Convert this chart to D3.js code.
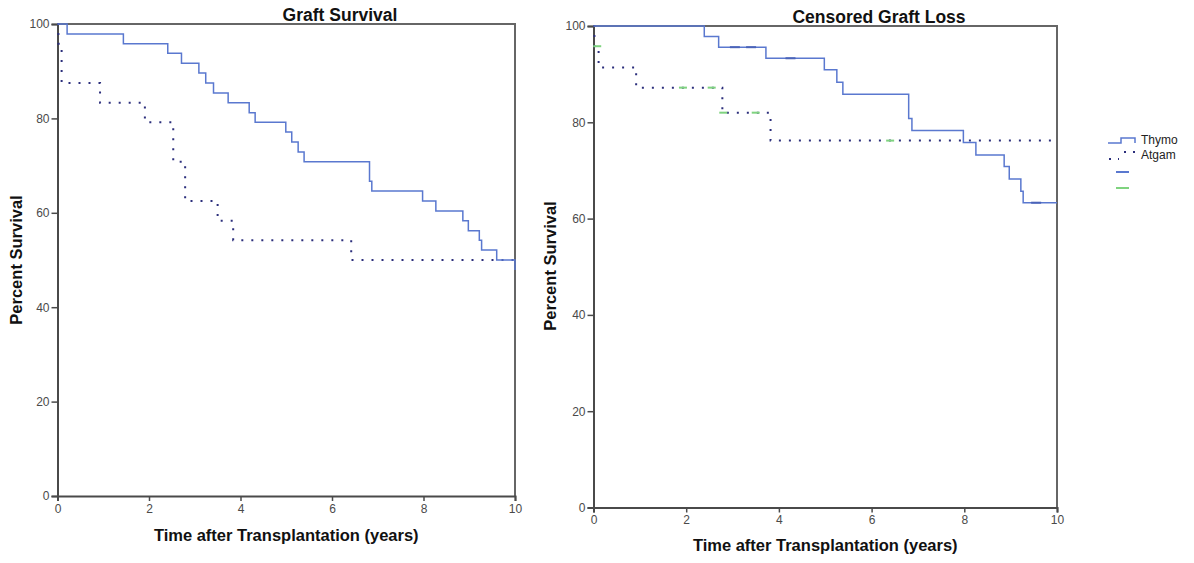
<!DOCTYPE html>
<html>
<head>
<meta charset="utf-8">
<script src="https://cdn.jsdelivr.net/npm/d3@7"></script>
<style>
  body { margin: 0; background: #fff; }
  text { font-family: "Liberation Sans", Arial, sans-serif; }
  .tick-label { fill: #4a4a4a; font-size: 12px; }
  .title { font-size: 17.5px; font-weight: bold; fill: #111; }
  .axis-title { font-size: 16.5px; font-weight: bold; fill: #111; }
</style>
</head>
<body>
<svg id="chart" width="1194" height="563"></svg>
<script>
// ticks
var yearTicks = [0, 2, 4, 6, 8, 10];
var pctTicks = [0, 20, 40, 60, 80, 100];

// graft survival: [years, percent] where survival steps to the new value
var graftThymo = [[0, 100], [0.21, 97.9], [1.44, 95.8], [2.41, 93.8], [2.71, 91.7],
    [3.09, 89.6], [3.24, 87.5], [3.41, 85.4], [3.73, 83.3], [4.19, 81.2],
    [4.32, 79.2], [4.99, 77.1], [5.12, 75.0], [5.26, 72.9], [5.39, 70.8],
    [6.82, 66.7], [6.87, 64.6], [7.98, 62.5], [8.27, 60.4], [8.86, 58.3],
    [8.98, 56.2], [9.22, 54.2], [9.27, 52.1], [9.6, 50.0], [10, 47.9]];
var graftAtgam = [[0, 100], [0.02, 95.8], [0.09, 87.5], [0.93, 83.3], [1.91, 79.2],
    [2.53, 70.8], [2.79, 62.5], [3.5, 58.3], [3.84, 54.2], [6.42, 50.0], [10, 50.0]];

// censored graft loss
var lossThymo = [[0, 100], [2.39, 97.8], [2.7, 95.6], [3.72, 93.3], [4.98, 90.9],
    [5.25, 88.3], [5.38, 85.8], [6.8, 80.8], [6.87, 78.3], [7.98, 75.8],
    [8.25, 73.2], [8.86, 70.8], [8.97, 68.2], [9.22, 65.7], [9.27, 63.3], [10, 63.3]];
var lossAtgam = [[0, 100], [0.02, 95.8], [0.11, 91.4], [0.92, 87.2], [2.78, 82.0],
    [3.82, 76.2], [10, 76.2]];
var lossThymoCens = [[3.05, 95.6], [3.4, 95.6], [4.25, 93.3], [9.55, 63.3]];
var lossAtgamCens = [[0.08, 95.8], [1.93, 87.2], [2.55, 87.2], [2.8, 82.0], [3.5, 82.0], [6.4, 76.2]];

var legendItems = ['Thymo', 'Atgam'];

var C = {
    thymo: '#5a78cf',
    atgam: '#2c2f7c',
    cens: '#7fd37f',
    axis: '#4a4a4a'
};

var svg = d3.select('#chart');

function drawPanel(p) {
    var x = d3.scaleLinear().domain([0, 10]).range([p.x0, p.x1]);
    var y = d3.scaleLinear().domain([0, 100]).range([p.y0, p.y1]);
    var g = svg.append('g');

    // frame (top + right)
    g.append('path')
        .attr('d', 'M' + x(0) + ',' + y(100) + 'H' + x(10) + 'V' + y(0))
        .attr('fill', 'none').attr('stroke', '#666').attr('stroke-width', 2);

    var yAxis = g.append('g')
        .attr('transform', 'translate(' + x(0) + ',0)')
        .call(d3.axisLeft(y).tickValues(pctTicks).tickSize(6).tickPadding(2));
    var xAxis = g.append('g')
        .attr('transform', 'translate(0,' + y(0) + ')')
        .call(d3.axisBottom(x).tickValues(yearTicks).tickSize(5).tickPadding(3));
    [xAxis, yAxis].forEach(function (a) {
        a.select('.domain').attr('stroke', C.axis).attr('stroke-width', 2);
        a.selectAll('.tick line').attr('stroke', C.axis).attr('stroke-width', 1.5);
        a.selectAll('.tick text').attr('class', 'tick-label').attr('font-size', null)
            .attr('font-family', null);
    });

    var line = d3.line()
        .x(function (d) { return x(d[0]); })
        .y(function (d) { return y(d[1]); })
        .curve(d3.curveStepAfter);

    g.append('path').datum(p.atgam)
        .attr('d', line).attr('fill', 'none')
        .attr('stroke', C.atgam).attr('stroke-width', 2)
        .attr('stroke-dasharray', '2,8');
    g.append('path').datum(p.thymo)
        .attr('d', line).attr('fill', 'none')
        .attr('stroke', C.thymo).attr('stroke-width', 1.5);

    g.selectAll('.cens-t').data(p.thymoCens || []).enter().append('line')
        .attr('x1', function (d) { return x(d[0]) - 5; })
        .attr('x2', function (d) { return x(d[0]) + 5; })
        .attr('y1', function (d) { return y(d[1]); })
        .attr('y2', function (d) { return y(d[1]); })
        .attr('stroke', '#4a63b8').attr('stroke-width', 2);
    g.selectAll('.cens-a').data(p.atgamCens || []).enter().append('line')
        .attr('x1', function (d) { return x(d[0]) - 4; })
        .attr('x2', function (d) { return x(d[0]) + 4; })
        .attr('y1', function (d) { return y(d[1]); })
        .attr('y2', function (d) { return y(d[1]); })
        .attr('stroke', C.cens).attr('stroke-width', 2);

    g.append('text').attr('class', 'title')
        .attr('x', p.titleX).attr('y', p.titleY)
        .attr('text-anchor', 'middle').text(p.title);
    g.append('text').attr('class', 'axis-title')
        .attr('x', (p.x0 + p.x1) / 2).attr('y', p.xLabY)
        .attr('text-anchor', 'middle').text('Time after Transplantation (years)');
    g.append('text').attr('class', 'axis-title')
        .attr('transform', 'translate(' + p.yLabX + ',' + p.yLabY + ') rotate(-90)')
        .attr('text-anchor', 'middle').text('Percent Survival');
}

drawPanel({
    x0: 57.5, x1: 515, y0: 496, y1: 24,
    thymo: graftThymo, atgam: graftAtgam,
    title: 'Graft Survival', titleX: 340, titleY: 21,
    xLabY: 541, yLabX: 22, yLabY: 260
});
drawPanel({
    x0: 593.5, x1: 1057, y0: 507.5, y1: 26,
    thymo: lossThymo, atgam: lossAtgam,
    thymoCens: lossThymoCens, atgamCens: lossAtgamCens,
    title: 'Censored Graft Loss', titleX: 879, titleY: 23,
    xLabY: 551, yLabX: 556, yLabY: 266
});

// legend
var lg = svg.append('g');
lg.append('path').attr('d', 'M1108,143H1121V138H1135V143')
    .attr('fill', 'none').attr('stroke', C.thymo).attr('stroke-width', 1.5);
lg.append('path').attr('d', 'M1109,159H1119M1124,152H1135')
    .attr('fill', 'none').attr('stroke', C.atgam).attr('stroke-width', 2)
    .attr('stroke-dasharray', '2,7');
lg.append('line').attr('x1', 1116).attr('x2', 1129).attr('y1', 172).attr('y2', 172)
    .attr('stroke', C.thymo).attr('stroke-width', 2);
lg.append('line').attr('x1', 1116).attr('x2', 1129).attr('y1', 188).attr('y2', 188)
    .attr('stroke', C.cens).attr('stroke-width', 2);
lg.selectAll('.lt').data(legendItems).enter().append('text')
    .attr('x', 1141).attr('y', function (d, i) { return 144 + i * 15; })
    .attr('font-size', 12).attr('fill', '#222').text(function (d) { return d; });
</script>
</body>
</html>
